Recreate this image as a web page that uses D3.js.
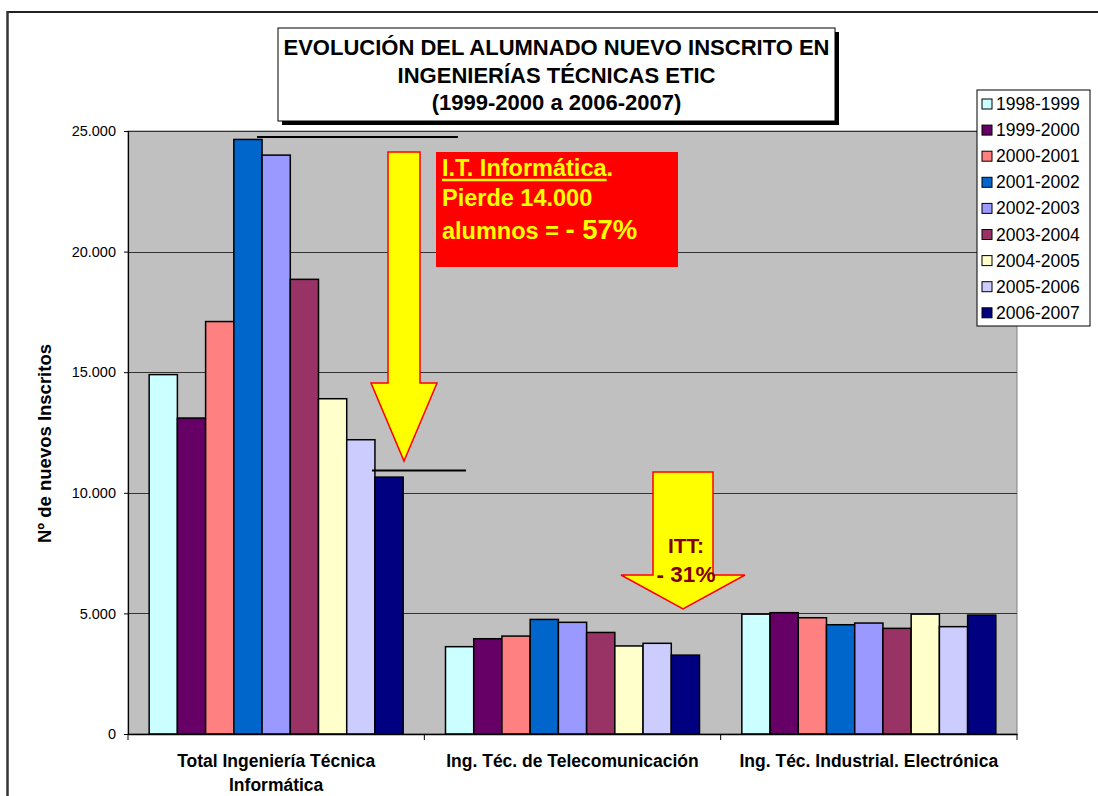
<!DOCTYPE html>
<html>
<head>
<meta charset="utf-8">
<script src="https://cdn.jsdelivr.net/npm/d3@7"></script>
<style>
  html, body { margin: 0; padding: 0; background: #fff; }
  svg { display: block; font-family: "Liberation Sans", Arial, sans-serif; }
</style>
</head>
<body>
<svg id="chart" width="1098" height="796"></svg>
<script>
// Categories (x groups)
const categories = [
  ["Total Ingeniería Técnica", "Informática"],
  ["Ing. Téc. de Telecomunicación"],
  ["Ing. Téc. Industrial. Electrónica"]
];
const categoryKeys = ["informatica", "teleco", "electronica"];

// Academic years (series)
const years = ["1998-1999", "1999-2000", "2000-2001", "2001-2002", "2002-2003",
               "2003-2004", "2004-2005", "2005-2006", "2006-2007"];
const yearColors = ["#CCFFFF", "#660066", "#FF8080", "#0066CC", "#9999FF",
                    "#993366", "#FFFFCC", "#CCCCFF", "#000080"];

// New enrolments per year, one array per degree
const informatica = [14900, 13100, 17100, 24650, 24000, 18850, 13900, 12200, 10650];
const teleco      = [3620, 3950, 4060, 4750, 4630, 4210, 3650, 3760, 3270];
const electronica = [4970, 5030, 4820, 4530, 4600, 4380, 4970, 4450, 4930];
const seriesByCategory = [informatica, teleco, electronica];

// Y axis
const yTicks = [0, 5000, 10000, 15000, 20000, 25000];
const yMax = 25000;

const svg = d3.select("#chart");
const font = '"Liberation Sans", Arial, sans-serif';

// Outer chart frame (top and left edges)
svg.append("line").attr("x1", 7).attr("y1", 12).attr("x2", 1098).attr("y2", 12)
  .attr("stroke", "#222").attr("stroke-width", 2);
svg.append("line").attr("x1", 7.5).attr("y1", 11).attr("x2", 7.5).attr("y2", 796)
  .attr("stroke", "#333").attr("stroke-width", 2.5);

const plot = { left: 128, right: 1017, top: 131, bottom: 734 };

const x0 = d3.scaleBand().domain(categoryKeys).range([plot.left, plot.right]).padding(0);
const W = x0.bandwidth();
const edge = W * 0.75 / 10.5;
const x1 = d3.scaleBand().domain(years).range([edge, W - edge]).padding(0);
const y = d3.scaleLinear().domain([0, yMax]).range([plot.bottom, plot.top]);

// Plot background
svg.append("rect")
  .attr("x", plot.left).attr("y", plot.top)
  .attr("width", plot.right - plot.left).attr("height", plot.bottom - plot.top)
  .attr("fill", "#C0C0C0").attr("stroke", "#808080").attr("stroke-width", 1);

// Gridlines
svg.append("g").selectAll("line").data(yTicks.filter(d => d > 0)).join("line")
  .attr("x1", plot.left).attr("x2", plot.right)
  .attr("y1", d => Math.round(y(d)) + 0.5).attr("y2", d => Math.round(y(d)) + 0.5)
  .attr("stroke", "#333").attr("stroke-width", 1);

// Bars
const groups = svg.append("g").selectAll("g").data(categoryKeys).join("g")
  .attr("transform", d => `translate(${x0(d)},0)`);
groups.selectAll("rect")
  .data((d, i) => seriesByCategory[i].map((v, j) => ({ year: years[j], value: v, color: yearColors[j] })))
  .join("rect")
  .attr("x", d => x1(d.year))
  .attr("y", d => y(d.value))
  .attr("width", x1.bandwidth())
  .attr("height", d => y(0) - y(d.value))
  .attr("fill", d => d.color)
  .attr("stroke", "#000").attr("stroke-width", 1.5);

// Y axis
const yAxis = d3.axisLeft(y).tickValues(yTicks).tickSize(4).tickPadding(8)
  .tickFormat(d => d3.format(",")(d).replace(/,/g, "."));
const gy = svg.append("g").attr("transform", `translate(${plot.left},0)`).call(yAxis);
gy.select(".domain").attr("stroke", "#000").attr("stroke-width", 1.2);
gy.selectAll(".tick line").attr("stroke", "#000");
gy.selectAll(".tick text").attr("font-family", font).attr("font-size", 14.5).attr("fill", "#000");

// X axis
const xAxis = d3.axisBottom(x0).tickValues([]).tickSizeOuter(0);
const gx = svg.append("g").attr("transform", `translate(0,${plot.bottom})`).call(xAxis);
gx.select(".domain").attr("stroke", "#000").attr("stroke-width", 1.5);
// category boundary ticks
gx.selectAll(".bnd").data(d3.range(4)).join("line").attr("class", "bnd")
  .attr("x1", i => plot.left + i * W).attr("x2", i => plot.left + i * W)
  .attr("y1", 0).attr("y2", 6).attr("stroke", "#000");
// category labels
const lbl = gx.selectAll(".cat").data(categoryKeys).join("text").attr("class", "cat")
  .attr("x", d => x0(d) + W / 2).attr("y", 33)
  .attr("text-anchor", "middle").attr("font-family", font)
  .attr("font-weight", "bold").attr("font-size", 17.5).attr("fill", "#000");
lbl.each(function (d, i) {
  d3.select(this).selectAll("tspan").data(categories[i]).join("tspan")
    .attr("x", x0(d) + W / 2).attr("dy", (t, k) => k === 0 ? 0 : 24).text(t => t);
});

// Y axis title
svg.append("text")
  .attr("transform", `translate(51,${(plot.top + plot.bottom) / 2 + 11}) rotate(-90)`)
  .attr("text-anchor", "middle").attr("font-family", font)
  .attr("font-weight", "bold").attr("font-size", 18.5).text("Nº de nuevos Inscritos");

// Title box with shadow
const tb = { x: 278, y: 28, w: 557, h: 93 };
svg.append("rect").attr("x", tb.x + 4).attr("y", tb.y + 4).attr("width", tb.w).attr("height", tb.h).attr("fill", "#000");
svg.append("rect").attr("x", tb.x).attr("y", tb.y).attr("width", tb.w).attr("height", tb.h)
  .attr("fill", "#fff").attr("stroke", "#000").attr("stroke-width", 1);
const titleLines = ["EVOLUCIÓN DEL ALUMNADO NUEVO INSCRITO EN", "INGENIERÍAS TÉCNICAS ETIC", "(1999-2000 a 2006-2007)"];
svg.append("g").selectAll("text").data(titleLines).join("text")
  .attr("x", tb.x + tb.w / 2).attr("y", (d, i) => 55 + i * 27.5)
  .attr("text-anchor", "middle").attr("font-family", font)
  .attr("font-weight", "bold").attr("font-size", 22).text(d => d);

// Legend
const lg = svg.append("g").attr("transform", "translate(977,90)");
lg.append("rect").attr("width", 113).attr("height", 236).attr("fill", "#fff").attr("stroke", "#000");
const li = lg.selectAll("g").data(years).join("g")
  .attr("transform", (d, i) => `translate(0,${14 + i * 26.1})`);
li.append("rect").attr("x", 5).attr("y", -5).attr("width", 10).attr("height", 10)
  .attr("fill", (d, i) => yearColors[i]).attr("stroke", "#000");
li.append("text").attr("x", 19).attr("y", 6).attr("font-family", font)
  .attr("font-size", 17.5).text(d => d);

// Reference lines marking the peak and the last value of Informática
svg.append("line").attr("x1", 257).attr("x2", 458).attr("y1", 137).attr("y2", 137)
  .attr("stroke", "#000").attr("stroke-width", 2);
svg.append("line").attr("x1", 372).attr("x2", 466).attr("y1", 470.5).attr("y2", 470.5)
  .attr("stroke", "#000").attr("stroke-width", 2);

// Down arrows
function arrowPath(cx, shaftHalf, headHalf, top, headBase, tip) {
  return `M${cx - shaftHalf},${top} L${cx + shaftHalf},${top} L${cx + shaftHalf},${headBase} ` +
         `L${cx + headHalf},${headBase} L${cx},${tip} L${cx - headHalf},${headBase} ` +
         `L${cx - shaftHalf},${headBase} Z`;
}
svg.append("path").attr("d", arrowPath(404, 16, 33, 152, 383, 461))
  .attr("fill", "#FFFF00").attr("stroke", "#FF0000").attr("stroke-width", 1.5);
svg.append("path").attr("d", arrowPath(683, 30, 62, 472, 575, 609))
  .attr("fill", "#FFFF00").attr("stroke", "#FF0000").attr("stroke-width", 1.5);

// Red callout for Informática
svg.append("rect").attr("x", 436).attr("y", 152).attr("width", 242).attr("height", 115).attr("fill", "#FF0000");
const ct = svg.append("g").attr("font-family", font).attr("font-weight", "bold").attr("fill", "#FFFF00");
const head = ct.append("text").attr("x", 442).attr("y", 176).attr("font-size", 23.5).text("I.T. Informática");
const headW = head.node().getComputedTextLength();
ct.append("text").attr("x", 442 + headW).attr("y", 176).attr("font-size", 23.5).text(".");
ct.append("line").attr("x1", 442).attr("x2", 442 + headW).attr("y1", 180).attr("y2", 180)
  .attr("stroke", "#FFFF00").attr("stroke-width", 2.5);
ct.append("text").attr("x", 442).attr("y", 206).attr("font-size", 23.5).text("Pierde 14.000");
const t3 = ct.append("text").attr("x", 442).attr("y", 239).attr("font-size", 23.5);
t3.append("tspan").text("alumnos = ");
t3.append("tspan").attr("font-size", 27.5).text("- 57%");

// ITT label
const it = svg.append("g").attr("font-family", font).attr("font-weight", "bold")
  .attr("fill", "#800000").attr("text-anchor", "middle");
it.append("text").attr("x", 686).attr("y", 553).attr("font-size", 21).text("ITT:");
it.append("text").attr("x", 686).attr("y", 582).attr("font-size", 22.5).text("- 31%");
</script>
</body>
</html>
